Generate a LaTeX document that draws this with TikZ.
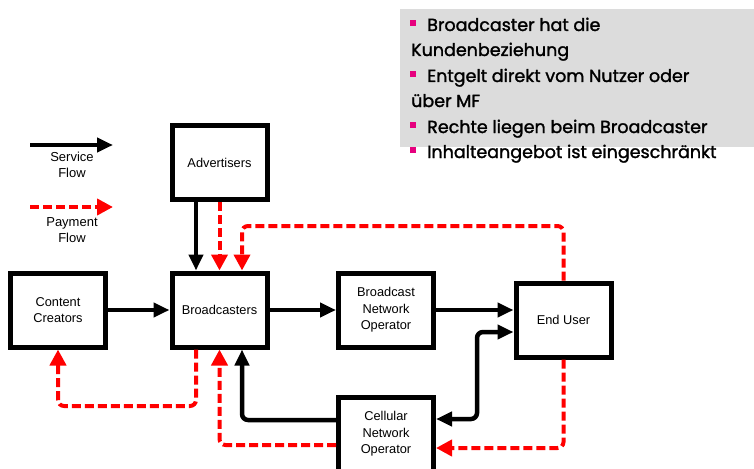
\documentclass[tikz,border=0pt]{standalone}
\usepackage{fontspec}
\setmainfont{Liberation Sans}
\newfontfamily\notefont[FakeBold=1.6]{Poppins}
\usetikzlibrary{arrows.meta}
\definecolor{payred}{RGB}{255,0,0}
\definecolor{notegrey}{RGB}{220,220,220}
\definecolor{bulletpink}{RGB}{230,0,126}
\tikzset{
  actor/.style={draw=black, line width=5pt, fill=white, minimum width=95pt,
    minimum height=74pt, inner sep=0pt, align=center,
    font=\fontsize{12.8}{16.5}\selectfont},
  svc/.style={line width=4.5pt, rounded corners=6pt,
    -{Triangle[length=16pt,width=14pt]}},
  pay/.style={draw=payred, line width=4pt, dash pattern=on 9pt off 4pt,
    rounded corners=6pt, -{Triangle[length=16pt,width=16pt]}},
  legendtxt/.style={align=center, font=\fontsize{13}{16.5}\selectfont},
  noteline/.style={anchor=base west, inner sep=0pt,
    font=\notefont\fontsize{17.5}{20}\selectfont}
}
\begin{document}
\begin{tikzpicture}[x=1pt,y=-1pt]
\useasboundingbox (0,0) rectangle (754,468);

% note panel with bullet points
\fill[notegrey] (400,9) rectangle (754,147);
\foreach \yy in {31,82,133,158}{
  \fill[bulletpink] (410,\yy-11) rectangle (416,\yy-5);
}
\node[noteline] (n1) at (427,31) {Broadcaster hat die};
\node[noteline] (n2) at (411,56) {Kundenbeziehung};
\node[noteline] (n3) at (427,82) {Entgelt direkt vom Nutzer oder};
\node[noteline] (n4) at (411,107) {über MF};
\node[noteline] (n5) at (427,133) {Rechte liegen beim Broadcaster};
\node[noteline] (n6) at (427,158) {Inhalteangebot ist eingeschränkt};

% legend
\coordinate (ls1) at (30,145);
\coordinate (ls2) at (113,145);
\draw[svc] (ls1) -- (ls2);
\node[legendtxt] (lt1) at (72,165) {Service\\Flow};
\coordinate (lp1) at (30,207);
\coordinate (lp2) at (113,207);
\draw[pay] (lp1) -- (lp2);
\node[legendtxt] (lt2) at (72,230) {Payment\\Flow};

% actors
\node[actor] (adv) at (219.5,162.5) {Advertisers};
\node[actor] (cc)  at (58,310)      {Content\\Creators};
\node[actor] (brd) at (219.5,310)   {Broadcasters};
\node[actor] (bno) at (386,310)     {Broadcast\\Network\\Operator};
\node[actor] (eu)  at (563.5,320)   {End User};
\node[actor] (cno) at (386,434)     {Cellular\\Network\\Operator};

% attachment points
\coordinate (bt1) at ([xshift=-23.5pt]brd.north);
\coordinate (bt3) at ([xshift=22.5pt]brd.north);
\coordinate (bb1) at ([xshift=-23.5pt]brd.south);
\coordinate (bb3) at ([xshift=22.5pt]brd.south);
\coordinate (ab1) at ([xshift=-23.5pt]adv.south);
\coordinate (payTop) at (0,226);
\coordinate (payCC) at (0,406);
\coordinate (euIn2) at (eu.west |- 0,332);
\coordinate (bend) at (477,419);

% service flows
\draw[svc] (ab1) -- (bt1);
\draw[svc] (cc.east) -- (brd.west);
\draw[svc] (brd.east) -- (bno.west);
\draw[svc] (bno.east) -- (bno.east -| eu.west);
\draw[svc, {Triangle[length=16pt,width=14pt]}-{Triangle[length=16pt,width=14pt]}]
  (cno.east |- bend) -| (euIn2 -| bend) -- (euIn2);
\draw[svc] (cno.west |- 0,420) -| (bb3);

% payment flows
\draw[pay] (adv.south) -- (brd.north);
\draw[pay] (eu.north) |- (bt3 |- payTop) -- (bt3);
\draw[pay] (eu.south) |- (cno.east |- 0,448);
\draw[pay] (cno.west |- 0,445) -| (brd.south);
\draw[pay] (bb1) |- (cc.south |- payCC) -- (cc.south);
\end{tikzpicture}
\end{document}
